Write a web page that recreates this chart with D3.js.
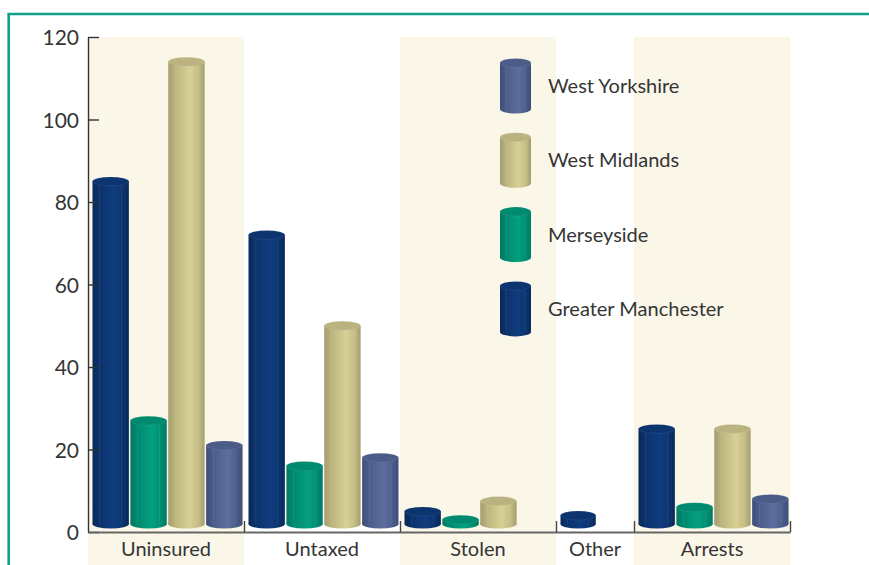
<!DOCTYPE html>
<html>
<head>
<meta charset="utf-8">
<script src="https://cdn.jsdelivr.net/npm/d3@7"></script>
<style>
  body { margin:0; background:#fff; }
  svg text { font-family: Lato, 'Open Sans', sans-serif; font-weight:400; fill:#353535; }
</style>
</head>
<body>
<svg id="chart" width="869" height="565"></svg>
<script>
// data
var categories = ['Uninsured','Untaxed','Stolen','Other','Arrests'];
var seriesNames = ['Greater Manchester','Merseyside','West Midlands','West Yorkshire'];
var greaterManchester = [85, 72, 5, 4, 25];
var merseyside = [27, 16, 3, 0, 6];
var westMidlands = [114, 50, 7.5, null, 25];
var westYorkshire = [21, 18, 0, null, 8];
var yTicks = [0, 20, 40, 60, 80, 100, 120];
var shaded = ['Uninsured','Stolen','Arrests'];

var seriesValues = [greaterManchester, merseyside, westMidlands, westYorkshire];

// colours: [dark edge, mid, light, right edge, top]
var palette = {
	'Greater Manchester': ['#082958','#0b336d','#103c7d','#0b336e','#0c346e'],
	'Merseyside':         ['#007a63','#008a70','#04a07f','#008c72','#008a6f'],
	'West Midlands':      ['#a39d6e','#bcb57f','#d8d095','#c2bb84','#bab380'],
	'West Yorkshire':     ['#3e4d78','#4d5d8a','#5d6e9e','#4b5b89','#4c5c89']
};

var config = {
	left: 88, right: 790, top: 37, bottom: 532,
	bandPad: 3, barShift: 1.5, baseLift: 8, ry: 4.5
};

var svg = d3.select('#chart');

// frame
svg.append('path')
	.attr('d','M8.7,565 V14 H869')
	.attr('fill','none')
	.attr('stroke','#13a086')
	.attr('stroke-width',2.6);

// each category gets as many slots as it has listed values
var slots = categories.map(function(c,i){
	return seriesValues.filter(function(s){ return s[i] !== null; }).length;
});
var starts = [0];
slots.forEach(function(n,i){ starts.push(starts[i]+n); });

var xScale = d3.scaleLinear()
	.domain([0, d3.sum(slots)])
	.range([config.left, config.right]);

var yScale = d3.scaleLinear()
	.domain([0,120])
	.range([config.bottom, config.top]);

// cream bands
svg.append('g').selectAll('rect')
	.data(categories)
	.enter()
	.filter(function(d){ return shaded.indexOf(d) >= 0; })
	.append('rect')
	.attr('x',function(d){ var i = categories.indexOf(d); return xScale(starts[i]); })
	.attr('width',function(d){ var i = categories.indexOf(d); return xScale(starts[i+1]) - xScale(starts[i]); })
	.attr('y',config.top)
	.attr('height',565-config.top)
	.attr('fill','#faf6e8');

// gradients
var defs = svg.append('defs');
seriesNames.forEach(function(name,i){
	var c = palette[name];
	var g = defs.append('linearGradient')
		.attr('id','grad'+i)
		.attr('x1','0').attr('x2','1').attr('y1','0').attr('y2','0');
	[[0,c[0]],[0.2,c[1]],[0.6,c[2]],[0.85,c[3]],[1,c[0]]].forEach(function(s){
		g.append('stop').attr('offset',s[0]).attr('stop-color',s[1]);
	});
});

function cylinder(parent, x, w, yTop, yBase, idx, ry){
	var c = palette[seriesNames[idx]];
	var g = parent.append('g');
	g.append('ellipse')
		.attr('cx',x+w/2).attr('cy',yBase)
		.attr('rx',w/2).attr('ry',ry)
		.attr('fill','url(#grad'+idx+')');
	g.append('rect')
		.attr('x',x).attr('y',yTop)
		.attr('width',w).attr('height',Math.max(0,yBase-yTop))
		.attr('fill','url(#grad'+idx+')');
	[0.2,0.8].forEach(function(f){
		g.append('line')
			.attr('x1',x+w*f).attr('x2',x+w*f)
			.attr('y1',yTop+ry).attr('y2',yBase)
			.attr('stroke','#fff').attr('stroke-opacity',0.08);
	});
	g.append('ellipse')
		.attr('cx',x+w/2).attr('cy',yTop)
		.attr('rx',w/2).attr('ry',ry)
		.attr('fill',c[4])
		.attr('stroke','#fff').attr('stroke-opacity',0.12).attr('stroke-width',0.6);
}

// bars
var bars = svg.append('g');
categories.forEach(function(cat,ci){
	var keys = d3.range(slots[ci]);
	var inner = d3.scaleBand()
		.domain(keys)
		.range([xScale(starts[ci])+config.bandPad+config.barShift, xScale(starts[ci+1])-config.bandPad+config.barShift])
		.paddingInner(0.04);
	seriesValues.forEach(function(vals,si){
		var v = vals[ci];
		if (v === null || v <= 0) return;
		cylinder(bars, inner(si), inner.bandwidth(), yScale(v), yScale(0)-config.baseLift, si, config.ry);
	});
});

// y axis
var yAxisGen = d3.axisLeft(yScale)
	.tickValues(yTicks)
	.tickSizeInner(-11)
	.tickSizeOuter(0)
	.tickPadding(9);

var yAxis = svg.append('g')
	.attr('transform','translate('+config.left+',0)')
	.call(yAxisGen);
yAxis.select('.domain').attr('stroke','#333').attr('stroke-width',1.4);
yAxis.selectAll('.tick line').attr('stroke','#333').attr('stroke-width',1.4);
yAxis.selectAll('.tick text')
	.attr('font-size',21)
	.attr('font-family',null)
	.attr('dy','0.36em')
	.attr('fill','#353535');

// x axis with category separators
var xAxisGen = d3.axisBottom(xScale)
	.tickValues(starts.slice(1))
	.tickSizeInner(-11)
	.tickSizeOuter(0)
	.tickFormat('');

var xAxis = svg.append('g')
	.attr('transform','translate(0,'+config.bottom+')')
	.call(xAxisGen);
xAxis.select('.domain').attr('stroke','#666').attr('stroke-width',2);
xAxis.selectAll('.tick line').attr('stroke','#444').attr('stroke-width',1.4);

svg.append('g').selectAll('text')
	.data(categories)
	.enter()
	.append('text')
	.text(function(d){ return d; })
	.attr('x',function(d,i){ return (xScale(starts[i])+xScale(starts[i+1]))/2; })
	.attr('y',556)
	.attr('text-anchor','middle')
	.attr('font-size',20);

// legend
var legendOrder = ['West Yorkshire','West Midlands','Merseyside','Greater Manchester'];
var legend = svg.append('g');
legendOrder.forEach(function(name,i){
	var cy = 86 + i*74.3;
	var idx = seriesNames.indexOf(name);
	cylinder(legend, 500, 31, cy-23, cy+23, idx, 4.5);
	legend.append('text')
		.text(name)
		.attr('x',548)
		.attr('y',cy+2)
		.attr('dominant-baseline','middle')
		.attr('font-size',20);
});
</script>
</body>
</html>
